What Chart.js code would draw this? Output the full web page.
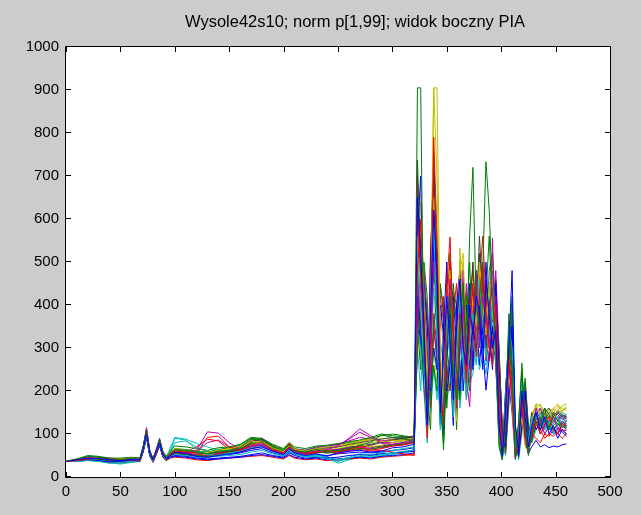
<!DOCTYPE html>
<html><head><meta charset="utf-8">
<script src="https://cdn.jsdelivr.net/npm/chart.js@4"></script>
<style>html,body{margin:0;padding:0;background:#cccccc;}#wrap{width:641px;height:515px;}</style>
</head><body><div id="wrap"><canvas id="c" width="641" height="515"></canvas></div>
<script>
const chartTitle = "Wysole42s10; norm p[1,99]; widok boczny PIA";
const xTicks = [0,50,100,150,200,250,300,350,400,450,500];
const yTicks = [0,100,200,300,400,500,600,700,800,900,1000];

const xLow = [0,10,20,30,40,50,60, 68,71,74,77,80,83,86,89,92,96, 100,110,120,130,140,150,160,170,180,190,200, 205,210,220,230,240,250,260,270,280,290,300,310,320];
const xHigh = [323,326,329,332,335,338,341,344,347,350, 353,356,359,362,365,368,371,374,377,380, 383,386,389,392,395,398,401,404,407,410, 413,416,419,422,425,428,432,436,440,444, 448,452,456,460];

const s01Low = [36,40,44,43,40,38,41, 40,65,100,55,40,60,80,52,44,50, 58,55,48,46,50,54,58,66,70,60,52, 66,56,50,54,48,56,60,62,58,60,68,70,76];
const s01High = [650,520,350,120,380,620,480,150,280,420, 310,180,350,460,300,260,400,330,420,380, 250,460,380,300,340,120,48,160,300,480, 120,60,200,140,70,120,150,110,140,100, 120,90,110,100];
const s02Low = [36,42,48,46,42,41,43, 42,72,108,60,42,62,86,58,46,56, 64,62,58,54,60,62,68,88,86,70,62, 74,60,58,64,60,62,66,74,80,98,92,88,85];
const s02High = [905,905,250,200,110,350,420,200,90,300, 420,250,180,330,450,280,560,720,400,350, 480,733,620,420,300,80,40,120,380,260, 50,130,250,110,55,100,150,120,160,110, 150,130,120,115];
const s03Low = [36,38,42,44,42,40,40, 39,68,104,58,38,58,82,54,42,52, 60,58,56,92,95,70,62,74,80,64,56, 70,62,56,58,62,58,64,70,62,66,72,74,80];
const s03High = [480,600,380,90,300,790,560,220,120,450, 558,300,160,380,320,220,350,450,280,420, 500,380,300,260,400,200,60,140,280,200, 45,90,180,90,60,90,130,100,120,140, 110,100,125,115];
const s04Low = [36,36,38,36,32,34,36, 38,62,96,52,36,56,78,50,40,70, 90,86,64,52,50,56,60,68,72,58,50, 62,54,46,48,42,36,44,50,48,52,56,60,62];
const s04High = [520,380,250,150,420,580,350,110,200,380, 270,140,300,420,260,190,300,380,310,460, 360,280,330,400,280,100,55,180,350,300, 70,110,220,130,80,140,120,150,110,130, 100,120,140,130];
const s05Low = [36,40,45,44,40,40,42, 41,70,115,62,42,64,88,56,44,54, 60,56,62,105,102,80,64,70,74,60,54, 68,58,54,60,64,72,90,112,96,78,76,80,88];
const s05High = [380,450,300,200,260,500,420,180,150,320, 460,330,210,280,400,230,163,330,480,300, 420,380,300,556,250,150,70,120,260,180, 60,90,160,100,70,110,160,130,100,120, 140,110,130,120];
const s06Low = [36,41,46,45,42,42,44, 42,66,102,56,40,60,84,55,45,58, 66,62,58,56,62,66,70,84,80,68,60, 72,64,60,66,70,72,78,84,88,82,84,86,90];
const s06High = [560,420,250,100,350,905,905,300,150,380, 480,280,130,532,380,200,300,420,350,500, 400,330,450,380,300,90,45,130,240,160, 50,80,140,70,60,130,170,140,150,120, 160,170,150,165];
const s07Low = [36,40,44,46,44,42,44, 44,70,106,58,40,62,84,58,46,58, 64,60,56,54,58,60,64,80,90,72,60, 74,62,60,66,68,70,76,80,84,88,92,92,94];
const s07High = [737,500,320,140,450,756,480,200,160,350, 420,200,250,460,340,280,380,500,350,560, 420,300,480,520,380,140,65,200,320,280, 80,120,230,150,90,150,120,140,160,145, 130,150,140,135];
const s08Low = [36,37,40,38,35,36,38, 38,60,94,50,36,54,74,48,40,46, 50,48,44,42,44,46,48,52,56,50,46, 56,50,44,46,44,46,50,52,50,54,56,58,60];
const s08High = [420,350,220,110,300,550,400,160,100,280, 380,230,150,300,350,210,270,360,300,400, 300,202,280,350,300,110,50,100,220,150, 45,70,150,80,55,70,85,70,75,68, 72,70,75,77];
const s09Low = [36,39,43,42,38,37,40, 40,64,98,54,38,56,80,52,42,50, 56,52,50,48,52,58,64,76,82,66,56, 68,58,54,58,56,60,64,66,64,70,74,76,80];
const s09High = [300,420,280,180,340,480,380,200,63,260, 400,300,110,330,420,270,200,360,440,330, 380,450,360,300,280,70,40,110,300,230, 40,120,265,120,60,100,130,110,130,120, 110,125,115,120];
const s10Low = [36,39,44,42,39,38,40, 39,66,100,56,38,58,80,52,42,50, 56,54,50,48,54,58,62,70,74,60,54, 78,60,52,56,58,54,60,64,60,62,58,54,50];
const s10High = [600,450,300,130,260,620,500,240,180,400, 500,350,200,300,450,300,250,400,320,380, 460,320,270,320,350,130,60,150,260,220, 55,100,190,110,65,100,90,80,100,95, 110,100,90,100];
const s11Low = [36,38,41,40,37,37,39, 39,62,96,52,36,56,76,50,40,48, 52,50,46,46,48,50,52,58,62,54,48, 58,52,48,50,46,40,46,54,52,56,62,66,70];
const s11High = [350,300,200,79,250,440,330,150,130,300, 350,250,140,260,300,180,240,320,260,340, 280,240,300,330,260,90,50,120,230,180, 60,90,170,100,60,120,140,120,130,110, 125,140,120,130];
const s12Low = [36,40,43,42,39,39,41, 41,66,100,56,38,58,82,54,44,52, 58,56,52,50,56,60,62,72,76,62,56, 70,60,56,60,62,64,68,70,66,68,72,76,82];
const s12High = [450,380,260,160,360,520,450,250,170,360, 300,200,180,420,330,250,320,400,300,460, 380,270,350,380,420,160,70,130,250,200, 60,100,200,120,75,130,150,160,120,130, 150,145,135,140];
const s13Low = [36,41,45,44,41,40,42, 42,68,104,58,40,60,84,56,44,54, 62,58,54,52,58,64,68,80,84,70,58, 72,62,58,62,64,66,72,76,70,74,80,84,88];
const s13High = [500,600,420,220,380,650,500,280,200,430, 480,320,230,480,520,300,380,450,400,480, 430,380,420,460,350,120,55,140,270,240, 70,110,210,130,80,150,160,170,140,150, 130,155,165,170];
const s14Low = [36,40,44,43,40,39,41, 41,68,102,56,38,58,82,54,43,54, 62,58,54,52,56,60,66,82,88,70,58, 72,62,56,62,60,64,70,72,74,80,86,90,92];
const s14High = [640,480,320,130,400,700,500,230,140,380, 450,280,200,400,360,240,330,420,380,520, 460,340,400,440,360,150,60,170,300,260, 65,120,240,140,90,130,145,130,150,160, 140,155,145,140];
const s15Low = [36,38,42,40,36,35,37, 38,60,96,50,36,54,76,48,40,46, 48,46,42,40,42,44,46,50,52,48,44, 52,46,42,44,40,42,44,46,44,48,50,52,56];
const s15High = [560,700,300,100,500,740,300,120,350,500, 250,120,400,480,200,300,450,250,480,350, 300,500,350,250,450,100,45,200,320,350, 60,80,230,100,60,140,110,130,150,120, 100,110,105,95];
const s16Low = [36,42,50,48,44,44,46, 44,72,112,60,42,64,90,60,48,62, 72,70,66,62,68,70,76,92,90,76,66, 80,70,66,72,74,78,82,86,92,100,96,94,90];
const s16High = [300,600,450,180,280,650,520,180,80,350, 520,380,150,420,280,350,500,300,420,520, 350,420,560,380,300,120,50,90,300,420, 70,60,160,110,50,120,140,160,130,150, 140,120,125,130];
const s17Low = [36,37,39,38,34,33,36, 36,58,92,48,34,52,72,46,38,44, 46,44,40,38,42,44,46,48,50,46,42, 50,44,40,42,38,40,42,44,42,46,48,50,52];
const s17High = [700,420,200,150,520,700,420,240,100,480, 380,180,280,500,350,180,420,480,300,450, 560,420,320,400,300,150,55,160,330,270, 50,100,210,90,70,100,120,110,90,100, 95,105,110,100];
const s18Low = [36,38,40,38,33,30,34, 36,60,94,50,34,54,74,48,38,60, 92,88,78,70,62,60,64,72,78,64,54, 66,58,50,52,44,32,40,46,44,48,52,56,60];
const s18High = [450,550,350,120,300,520,380,130,180,420, 300,160,350,380,240,300,400,350,460,380, 300,380,440,300,340,110,50,130,260,300, 55,90,180,120,60,130,150,140,135,125, 130,140,150,145];
const s19Low = [36,41,46,45,41,40,43, 42,70,110,60,42,64,86,58,46,56, 62,58,56,54,58,62,70,86,84,70,60, 72,64,62,68,72,76,84,92,88,84,86,90,94];
const s19High = [380,500,280,140,350,600,450,170,120,330, 480,300,200,320,480,280,220,400,350,420, 500,300,380,460,400,140,60,150,280,230, 45,110,200,100,65,110,130,120,145,125, 130,135,120,125];
const s20Low = [36,40,44,44,41,40,42, 42,66,104,58,40,60,84,56,44,58, 64,60,56,54,60,64,72,86,82,68,58, 76,64,60,66,68,72,78,82,86,90,88,84,86];
const s20High = [520,640,360,160,420,905,700,260,180,400, 520,340,170,420,500,260,340,500,380,440, 480,360,420,500,380,130,60,150,290,260, 60,100,190,120,70,140,170,165,155,150, 160,150,155,160];
const s21Low = [36,39,43,42,38,37,40, 40,64,98,54,38,56,78,52,42,52, 58,54,52,50,54,58,62,70,74,62,56, 68,60,54,58,56,58,62,66,68,72,76,80,84];
const s21High = [600,450,280,110,380,620,420,190,130,360, 440,260,180,380,420,260,300,440,360,480, 420,300,440,480,360,120,55,160,300,250, 55,100,220,120,75,130,140,135,150,140, 145,150,140,145];
const s22Low = [36,39,42,41,38,37,39, 39,62,98,52,38,56,78,50,42,48, 54,52,48,46,50,52,56,62,66,56,50, 60,54,48,52,50,54,56,58,56,58,62,64,68];
const s22High = [400,300,450,350,200,300,250,400,330,200, 260,420,300,200,330,400,250,300,380,260, 350,300,420,330,450,250,90,70,200,350, 100,50,120,200,100,90,130,100,120,110, 115,100,120,110];
const s23Low = [36,41,47,46,43,42,44, 43,70,106,60,42,62,86,58,46,58, 66,64,60,58,64,68,74,90,88,74,64, 78,66,62,70,72,76,80,84,90,96,100,96,92];
const s23High = [350,250,500,420,180,260,200,450,380,160, 300,450,350,180,300,420,300,260,350,300, 400,350,380,300,420,300,110,60,260,400, 120,45,150,230,120,80,120,140,110,125, 120,130,125,118];
const s24Low = [36,38,43,42,38,37,39, 38,64,98,54,37,56,78,52,42,50, 56,58,70,88,84,64,58,66,72,60,52, 64,58,54,56,60,62,66,70,72,70,74,78,82];
const s24High = [550,350,420,300,160,380,300,350,420,250, 200,380,450,250,260,380,420,280,300,420, 330,420,350,400,380,280,120,55,180,320, 90,55,110,190,80,95,140,110,130,120, 105,115,110,108];
const s25Low = [36,37,39,37,33,32,35, 37,60,94,50,35,54,74,48,38,56, 80,84,70,58,54,56,60,66,70,60,52, 62,54,48,48,42,38,42,48,46,50,54,58,64];
const s25High = [300,200,380,280,150,250,180,320,260,180, 220,330,280,160,250,300,220,240,320,250, 280,260,330,260,350,220,80,50,160,280, 80,40,100,170,90,80,110,120,100,115, 110,120,130,125];
const s26Low = [36,40,44,44,41,40,42, 41,68,108,58,40,60,84,56,44,54, 60,58,58,80,86,70,62,70,76,62,56, 70,60,58,64,68,74,88,104,92,80,80,84,90];
const s26High = [450,320,480,380,220,340,280,420,360,220, 280,400,380,220,300,450,320,280,400,320, 380,330,450,360,480,300,100,65,220,380, 110,60,140,210,110,100,150,120,140,130, 125,140,135,130];
const s27Low = [36,40,45,44,41,41,43, 42,66,102,56,40,60,82,55,44,56, 62,60,56,54,60,64,70,82,80,66,58, 72,62,60,64,66,70,74,78,80,84,86,88,92];
const s27High = [380,280,400,320,200,300,220,380,300,190, 240,360,320,190,280,360,260,250,330,280, 320,290,380,320,400,260,95,60,190,300, 95,50,130,180,95,110,160,150,140,160, 150,165,160,155];
const s28Low = [36,39,43,43,40,39,41, 41,66,100,56,38,58,80,54,43,54, 60,56,54,52,56,60,64,78,84,68,58, 70,62,58,62,62,64,68,72,76,82,88,90,96];
const s28High = [500,380,460,360,240,360,260,440,400,230, 300,430,400,230,320,430,340,300,420,340, 400,360,420,380,460,280,110,70,230,360, 105,65,150,220,115,105,135,125,145,135, 140,130,145,138];

const seriesList = [
  [s01Low,s01High],[s02Low,s02High],[s03Low,s03High],[s04Low,s04High],[s05Low,s05High],
  [s06Low,s06High],[s07Low,s07High],[s08Low,s08High],[s09Low,s09High],[s10Low,s10High],
  [s11Low,s11High],[s12Low,s12High],[s13Low,s13High],[s14Low,s14High],[s15Low,s15High],
  [s16Low,s16High],[s17Low,s17High],[s18Low,s18High],[s19Low,s19High],[s20Low,s20High],
  [s21Low,s21High],[s22Low,s22High],[s23Low,s23High],[s24Low,s24High],[s25Low,s25High],
  [s26Low,s26High],[s27Low,s27High],[s28Low,s28High]
];
const palette = ['#0000ff','#008000','#ff0000','#00bfbf','#bf00bf','#bfbf00','#404040'];
const xAll = xLow.concat(xHigh);

const datasets = seriesList.map((s, i) => {
  const ys = s[0].concat(s[1]);
  return {
    data: xAll.map((x, j) => ({x: x, y: ys[j]})),
    borderColor: palette[i % palette.length],
    borderWidth: 1,
    pointRadius: 0,
    pointHoverRadius: 0,
    fill: false,
    tension: 0
  };
});

const framePlugin = {
  id: 'frame',
  beforeDraw(chart) {
    const {ctx, chartArea: a} = chart;
    ctx.save();
    ctx.fillStyle = '#cccccc';
    ctx.fillRect(0, 0, chart.width, chart.height);
    ctx.fillStyle = '#ffffff';
    ctx.fillRect(a.left, a.top, a.right - a.left, a.bottom - a.top);
    ctx.restore();
  },
  afterDraw(chart) {
    const {ctx, chartArea: a, scales} = chart;
    ctx.save();
    ctx.strokeStyle = '#000000';
    ctx.lineWidth = 1;
    ctx.beginPath();
    ctx.rect(Math.round(a.left) - 0.5, Math.round(a.top) - 0.5, Math.round(a.right - a.left) + 1, Math.round(a.bottom - a.top) + 1);
    ctx.stroke();
    const tl = 5;
    ctx.beginPath();
    xTicks.forEach(v => {
      const px = Math.round(scales.x.getPixelForValue(v)) + 0.5;
      ctx.moveTo(px, a.bottom); ctx.lineTo(px, a.bottom - tl);
      ctx.moveTo(px, a.top); ctx.lineTo(px, a.top + tl);
    });
    yTicks.forEach(v => {
      const py = Math.round(scales.y.getPixelForValue(v)) - 0.5;
      ctx.moveTo(a.left, py); ctx.lineTo(a.left + tl, py);
      ctx.moveTo(a.right, py); ctx.lineTo(a.right - tl, py);
    });
    ctx.stroke();
    ctx.fillStyle = '#000000';
    ctx.font = '16.5px "Liberation Sans", Arial, sans-serif';
    ctx.textAlign = 'center';
    ctx.textBaseline = 'middle';
    ctx.fillText(chartTitle, 355, 22);
    ctx.restore();
  }
};

new Chart(document.getElementById('c'), {
  type: 'line',
  data: { datasets: datasets },
  options: {
    responsive: false,
    animation: false,
    devicePixelRatio: 1,
    layout: { padding: { top: 47, right: 31, left: 0, bottom: 0 } },
    plugins: { legend: { display: false }, title: { display: false }, tooltip: { enabled: false } },
    events: [],
    scales: {
      x: {
        type: 'linear', min: 0, max: 500,
        afterBuildTicks: s => { s.ticks = xTicks.map(v => ({value: v})); },
        afterFit: s => { s.height = 38; },
        grid: { display: false, drawTicks: false },
        border: { display: false },
        ticks: { autoSkip: false, maxRotation: 0, padding: 6, color: '#000', callback: v => String(v), font: { family: '"Liberation Sans", Arial, sans-serif', size: 15 } }
      },
      y: {
        type: 'linear', min: 0, max: 1000,
        afterBuildTicks: s => { s.ticks = yTicks.map(v => ({value: v})); },
        afterFit: s => { s.width = 66; },
        grid: { display: false, drawTicks: false },
        border: { display: false },
        ticks: { autoSkip: false, padding: 7, color: '#000', callback: v => String(v), font: { family: '"Liberation Sans", Arial, sans-serif', size: 15 } }
      }
    }
  },
  plugins: [framePlugin]
});
</script>
</body></html>
